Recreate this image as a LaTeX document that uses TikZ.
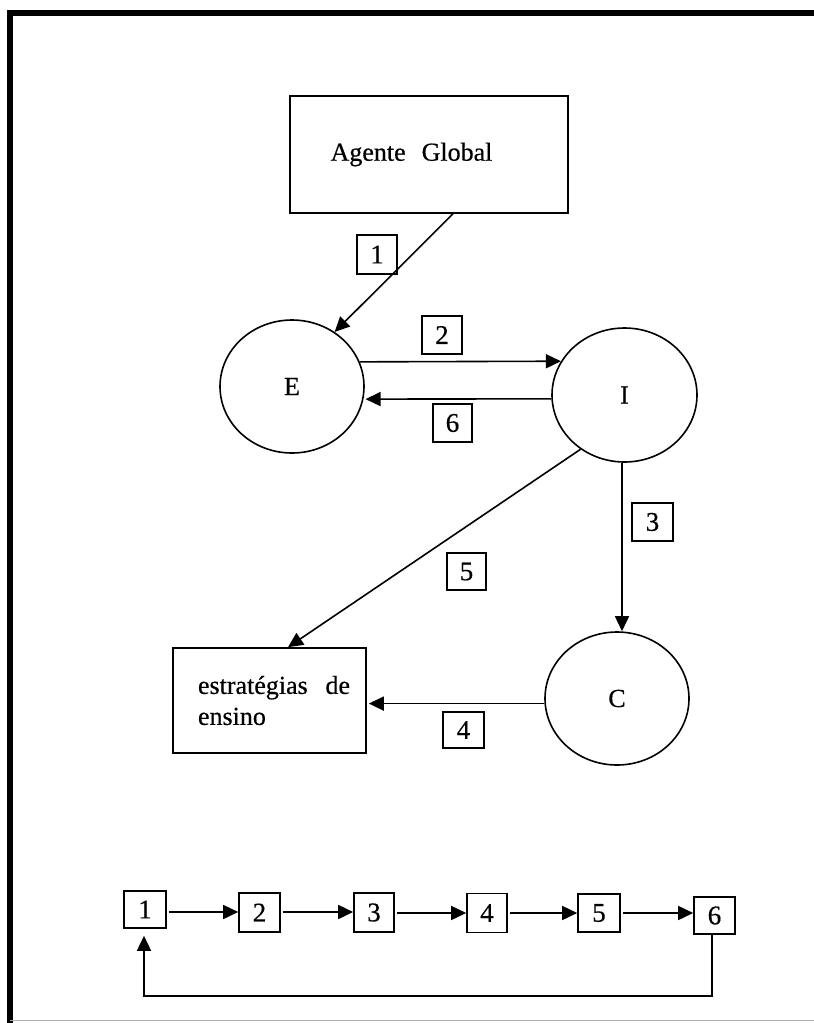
\documentclass[tikz,border=0pt]{standalone}
\usepackage{fontspec}
\setmainfont{Liberation Serif}[FakeBold=0.5]
\usetikzlibrary{arrows.meta,shapes.geometric,calc}

\begin{document}
\begin{tikzpicture}[x=1pt,y=-1pt,
  line width=1.6pt,
  txt/.style={font=\fontsize{26}{31}\selectfont},
  rectbox/.style={draw,rectangle,inner sep=0pt,txt},
  roundbox/.style={draw,ellipse,inner sep=0pt,minimum width=144pt,minimum height=133pt,txt},
  numbox/.style={draw,rectangle,inner sep=0pt,minimum width=40pt,minimum height=38pt,
    font=\fontsize{27}{27}\selectfont},
  arr/.style={-{Triangle[length=15pt,width=14pt]}},
  frameline/.style={line width=6pt,line cap=rect}]

\useasboundingbox (0,0) rectangle (814,1023);

% outer frame
\draw[frameline] (10,1030) -- (10,13) -- (820,13);
\draw[line width=1pt,black!30] (10,1020.5) -- (814,1020.5);

% main nodes
\node[rectbox,minimum width=278pt,minimum height=117pt] (ag) at (429,154.5)
  {\raisebox{4pt}{Agente\hspace{16pt}Global}\kern35pt\null};
\node[roundbox] (E) at (292,386.5) {\raisebox{-6.5pt}{E}};
\node[roundbox,minimum width=145pt,minimum height=134pt] (I) at (624.5,395) {\raisebox{-3pt}{I}};
\node[roundbox] (C) at (617,698.5) {\raisebox{-4.5pt}{C}};
\node[rectbox,minimum width=193pt,minimum height=105pt] (est) at (269.5,700.5)
  {\kern9pt\raisebox{-4pt}{\parbox{152pt}{estratégias\hfill de\\ensino}}};

% numbered labels on the connectors
\node[numbox,minimum height=39pt] (l1) at (377,254.5) {1};
\node[numbox] (l2) at (442,335) {2};
\node[numbox,minimum width=39pt] (l6) at (452.5,423) {6};
\node[numbox,minimum width=41pt] (l3) at (652.5,522) {3};
\node[numbox,minimum width=39pt,minimum height=37pt] (l5) at (466.5,571.5) {5};
\node[numbox,minimum width=41pt,minimum height=36pt] (l4) at (463.5,730) {4};

% connectors
\draw[arr] ([xshift=24pt]ag.south) -- (E.52);
\draw[arr] (E.20) -- (I.152.4);
\draw[arr,shorten >=2pt] (I.183) -- (E.-10);
\draw[arr] ([xshift=-2.5pt]I.south) -- ([xshift=-2.5pt]I.south |- C.north);
\draw[arr] (I.231) -- ([xshift=18.5pt]est.north);
\draw[arr,shorten >=2pt] (C.184) -- (C.184 -| est.east);

% sequence of steps
\node[numbox,minimum width=42pt,minimum height=37pt] (b1) at (145,909.5) {1};
\node[numbox,minimum width=41pt,minimum height=39pt] (b2) at (259.5,912.5) {2};
\node[numbox,minimum height=39pt] (b3) at (374,912.5) {3};
\node[numbox,minimum height=39pt] (b4) at (487,913) {4};
\node[numbox,minimum width=42pt] (b5) at (599,913) {5};
\node[numbox,minimum width=41pt,minimum height=37pt] (b6) at (714.5,915.5) {6};

\coordinate (loopR) at (712,996);
\coordinate (loopL) at (144,996);

\draw[arr,shorten <=2pt] (b1.east |- 0,912) -- (b2.west |- 0,912);
\draw[arr,shorten <=2pt] (b2.east |- 0,912) -- (b3.west |- 0,912);
\draw[arr,shorten <=2pt] (b3.east |- 0,913) -- (b4.west |- 0,913);
\draw[arr,shorten <=2pt] (b4.east |- 0,913) -- (b5.west |- 0,913);
\draw[arr,shorten <=2pt] (b5.east |- 0,913) -- (b6.west |- 0,913);
\draw[arr,shorten >=7pt] (b6.south -| loopR) -- (loopR) -- (loopL) -- (loopL |- b1.south);

\end{tikzpicture}
\end{document}
